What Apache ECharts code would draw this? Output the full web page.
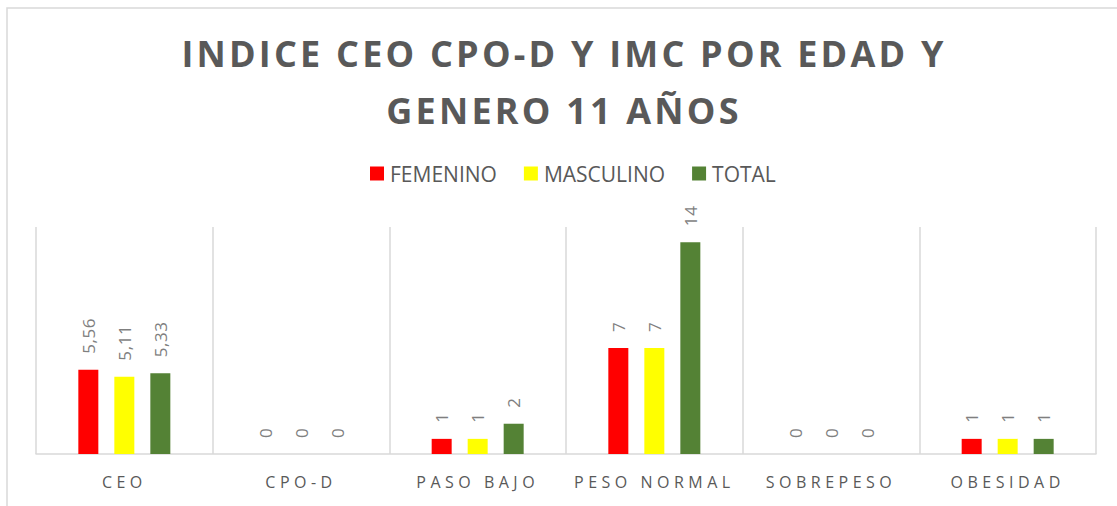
<!DOCTYPE html>
<html>
<head>
<meta charset="utf-8">
<script src="https://cdn.jsdelivr.net/npm/echarts@6/dist/echarts.min.js"></script>
<style>
html, body { margin: 0; padding: 0; background: #ffffff; }
#chart { width: 1117px; height: 506px; }
#chart text[style*="36px"] { letter-spacing: 3.2px; }
#chart text[style*="16px"] { letter-spacing: 4.5px; }
#chart text[style*="17px"] { letter-spacing: 0.6px; }
</style>
</head>
<body>
<div id="chart"></div>
<script>
const categories = ['CEO', 'CPO-D', 'PASO BAJO', 'PESO NORMAL', 'SOBREPESO', 'OBESIDAD'];
const femenino = [5.56, 0, 1, 7, 0, 1];
const masculino = [5.11, 0, 1, 7, 0, 1];
const total = [5.33, 0, 2, 14, 0, 1];
const seriesNames = ['FEMENINO', 'MASCULINO', 'TOTAL'];
const titleText = 'INDICE CEO CPO-D Y IMC POR EDAD Y\nGENERO 11 AÑOS';

const FONT = '"Open Sans", "Liberation Sans", sans-serif';
const colors = ['#FF0000', '#FFFF00', '#548235'];

function fmt(p) {
  return String(p.value).replace('.', ',');
}

const labelCfg = {
  show: true,
  position: 'top',
  rotate: 90,
  align: 'left',
  verticalAlign: 'middle',
  distance: 16,
  color: '#7f7f7f',
  fontSize: 17,
  fontFamily: FONT,
  formatter: fmt
};

const chart = echarts.init(document.getElementById('chart'), null, { renderer: 'svg' });
chart.setOption({
  animation: false,
  backgroundColor: '#ffffff',
  graphic: [{
    type: 'rect',
    shape: { x: 7, y: 8, width: 1200, height: 600 },
    style: { fill: 'none', stroke: '#d9d9d9', lineWidth: 1.5 },
    silent: true,
    z: -10
  }],
  title: {
    text: titleText,
    left: 564,
    top: 25,
    textAlign: 'center',
    padding: 0,
    textStyle: {
      fontFamily: FONT,
      fontWeight: 'bold',
      fontSize: 36,
      lineHeight: 57,
      color: '#595959'
    }
  },
  legend: {
    data: seriesNames,
    left: 365,
    top: 158,
    itemWidth: 14,
    itemHeight: 14,
    itemGap: 27,
    icon: 'rect',
    textStyle: { fontFamily: FONT, fontSize: 21, color: '#595959', padding: [0, 0, 0, 1] }
  },
  grid: { left: 36, right: 21, top: 227, bottom: 52, containLabel: false },
  xAxis: {
    type: 'category',
    data: categories,
    axisLine: { lineStyle: { color: '#d9d9d9', width: 1.5 } },
    axisTick: { show: false },
    splitLine: { show: true, lineStyle: { color: '#d9d9d9', width: 1.5 } },
    axisLabel: { fontFamily: FONT, fontSize: 16, color: '#595959', margin: 20, interval: 0 }
  },
  yAxis: {
    type: 'value',
    min: 0,
    max: 15,
    show: false,
    splitLine: { show: false }
  },
  series: [
    { name: seriesNames[0], type: 'bar', data: femenino, itemStyle: { color: colors[0] }, barWidth: 20, barGap: '80%', label: labelCfg },
    { name: seriesNames[1], type: 'bar', data: masculino, itemStyle: { color: colors[1] }, barWidth: 20, barGap: '80%', label: labelCfg },
    { name: seriesNames[2], type: 'bar', data: total, itemStyle: { color: colors[2] }, barWidth: 20, barGap: '80%', label: labelCfg }
  ]
});
</script>
</body>
</html>
